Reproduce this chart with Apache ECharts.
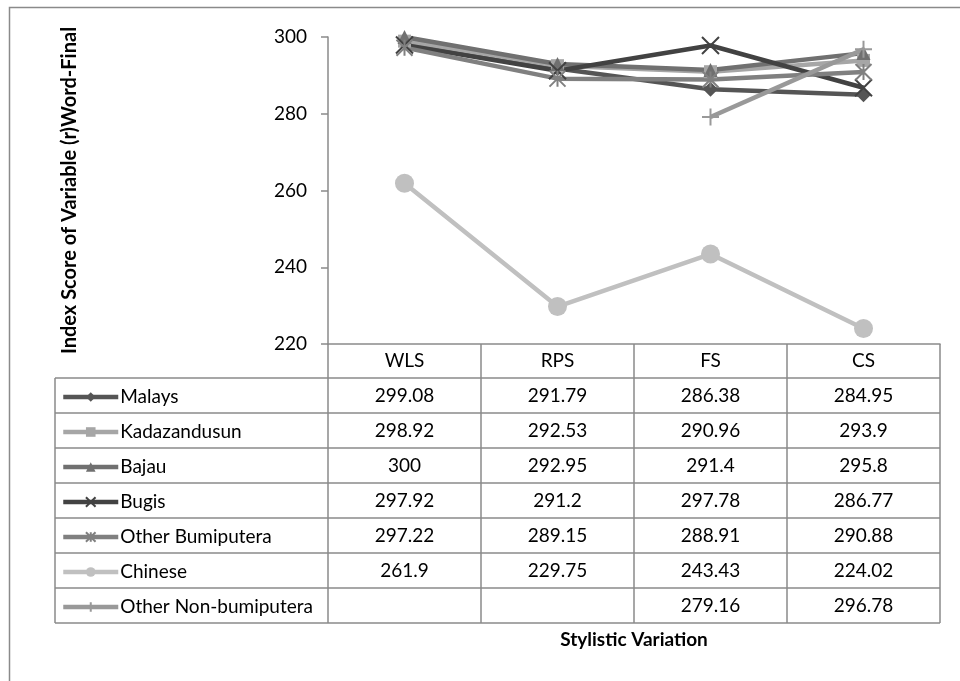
<!DOCTYPE html>
<html><head><meta charset="utf-8">
<script src="https://cdn.jsdelivr.net/npm/echarts@6/dist/echarts.min.js"></script>
<style>html,body{margin:0;padding:0;background:#fff}#c{width:960px;height:681px}</style>
</head><body><div id="c"></div>
<script>
const categories = ['WLS', 'RPS', 'FS', 'CS'];
const yTicks = [220, 240, 260, 280, 300];
const seriesNames = ['Malays', 'Kadazandusun', 'Bajau', 'Bugis', 'Other Bumiputera', 'Chinese', 'Other Non-bumiputera'];
const malays = [299.08, 291.79, 286.38, 284.95];
const kadazandusun = [298.92, 292.53, 290.96, 293.9];
const bajau = [300, 292.95, 291.4, 295.8];
const bugis = [297.92, 291.2, 297.78, 286.77];
const otherBumiputera = [297.22, 289.15, 288.91, 290.88];
const chinese = [261.9, 229.75, 243.43, 224.02];
const otherNonBumiputera = [null, null, 279.16, 296.78];
const allValues = [malays, kadazandusun, bajau, bugis, otherBumiputera, chinese, otherNonBumiputera];

const colors = ['#555555', '#a6a6a6', '#707070', '#424242', '#808080', '#c0c0c0', '#999999'];
const symbols = [
  'diamond', 'rect', 'triangle',
  'path://M0,0L10,10M10,0L0,10',
  'path://M5,0L5,10M0,0L10,10M10,0L0,10',
  'circle',
  'path://M5,0L5,10M0,5L10,5'
];
const sizes = [15, 13, 14, 17, 16, 19, 17];
const strokeMarker = [false, false, false, true, true, false, true];

const chart = echarts.init(document.getElementById('c'));
const font = 'Lato, "Open Sans", sans-serif';
const fs = 19;

const series = seriesNames.map((n, i) => ({
  name: n,
  type: 'line',
  data: allValues[i],
  connectNulls: false,
  symbol: symbols[i],
  symbolSize: sizes[i],
  showAllSymbol: true,
  lineStyle: { color: colors[i], width: 4.5 },
  itemStyle: strokeMarker[i]
    ? { color: colors[i], borderColor: colors[i], borderWidth: 2 }
    : { color: colors[i], borderWidth: 0 },
  emphasis: { disabled: true },
  animation: false
}));

const gridLeft = 328, gridRight = 940, gridTop = 37, gridBottom = 344;
const rowTop = 378, rowH = 35, tableLeft = 55;
const lineCol = '#8a8a8a';
const legendItemH = 12;

const legends = seriesNames.map((n, r) => ({
  orient: 'vertical',
  left: 61,
  top: rowTop + r * rowH + rowH / 2 - legendItemH / 2 - 2,
  padding: 0,
  itemWidth: 55,
  itemHeight: legendItemH,
  itemGap: 0,
  selectedMode: false,
  lineStyle: { width: 4.5 },
  textStyle: { color: '#000', fontSize: fs, fontFamily: font, padding: [0, 0, 0, -3] },
  data: [n]
}));

const option = {
  animation: false,
  textStyle: { fontFamily: font },
  grid: { left: gridLeft, right: 960 - gridRight, top: gridTop, bottom: 681 - gridBottom },
  xAxis: {
    type: 'category',
    data: categories,
    boundaryGap: true,
    axisLine: { lineStyle: { color: lineCol, width: 1.5 } },
    axisTick: { show: false },
    axisLabel: { color: '#000', fontSize: fs, fontFamily: font, margin: 7 },
    name: 'Stylistic Variation',
    nameLocation: 'middle',
    nameGap: 286,
    nameTextStyle: { color: '#000', fontSize: fs, fontWeight: 'bold', fontFamily: font }
  },
  yAxis: {
    type: 'value',
    min: yTicks[0],
    max: yTicks[yTicks.length - 1],
    interval: 20,
    splitLine: { show: false },
    axisLine: { show: true, lineStyle: { color: lineCol, width: 1.5 } },
    axisTick: { show: true, length: 7, lineStyle: { color: lineCol, width: 1.5 } },
    axisLabel: { color: '#000', fontSize: fs, fontFamily: font, margin: 21 },
    name: 'Index Score of Variable (r)Word-Final',
    nameLocation: 'middle',
    nameRotate: 90,
    nameGap: 248,
    nameTextStyle: { color: '#000', fontSize: 20, fontWeight: 'bold', fontFamily: font }
  },
  legend: legends,
  series: series
};
chart.setOption(option);

// table graphics built from data
const g = [];
g.push({ type: 'rect', shape: { x: 9.5, y: 7.5, width: 1000, height: 1000 }, style: { fill: null, stroke: '#8a8a8a', lineWidth: 1.5 }, silent: true });
const rows = seriesNames.length;
const tableBottom = rowTop + rows * rowH;
for (let r = 0; r <= rows; r++) {
  const y = rowTop + r * rowH;
  g.push({ type: 'line', shape: { x1: tableLeft, y1: y, x2: gridRight, y2: y }, style: { stroke: lineCol, lineWidth: 1.5 }, silent: true });
}
g.push({ type: 'line', shape: { x1: tableLeft, y1: rowTop, x2: tableLeft, y2: tableBottom }, style: { stroke: lineCol, lineWidth: 1.5 }, silent: true });
const colW = (gridRight - gridLeft) / categories.length;
for (let c = 0; c <= categories.length; c++) {
  const x = gridLeft + c * colW;
  g.push({ type: 'line', shape: { x1: x, y1: gridBottom, x2: x, y2: tableBottom }, style: { stroke: lineCol, lineWidth: 1.5 }, silent: true });
}
allValues.forEach((vals, r) => {
  vals.forEach((v, c) => {
    if (v === null || v === undefined) return;
    const x = chart.convertToPixel({ xAxisIndex: 0 }, categories[c]);
    g.push({ type: 'text', x: x, y: rowTop + r * rowH + rowH / 2, silent: true,
      style: { text: String(v), fill: '#000', font: fs + 'px ' + font, textAlign: 'center', textVerticalAlign: 'middle' } });
  });
});
chart.setOption({ graphic: g });
</script></body></html>
